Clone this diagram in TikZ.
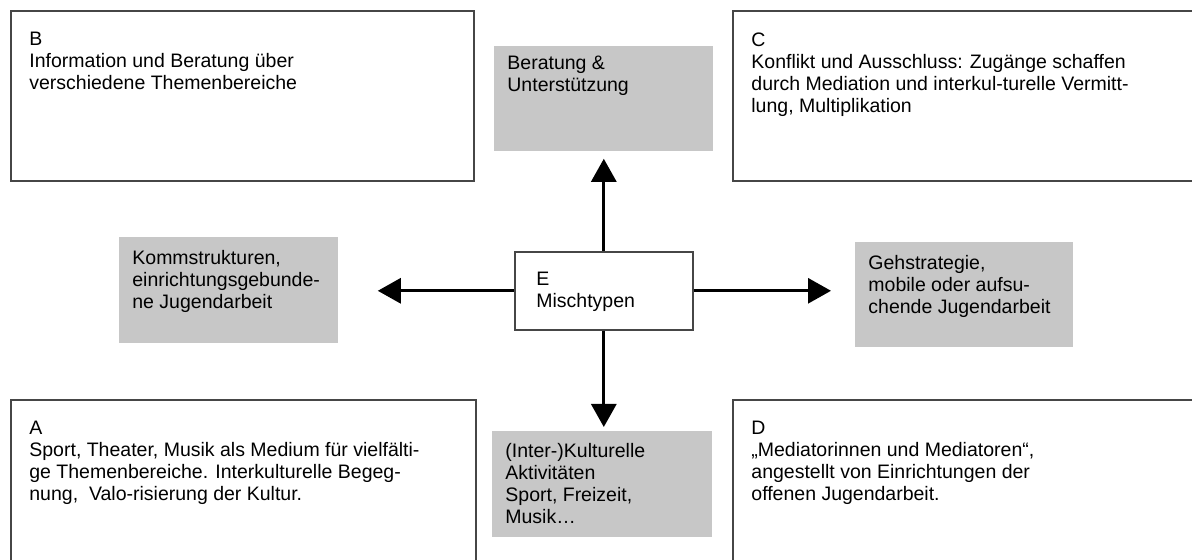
\documentclass[tikz,border=0pt]{standalone}
\usepackage{fontspec}
\setmainfont{Liberation Sans}
\usetikzlibrary{arrows.meta}
\definecolor{feldgrau}{RGB}{199,199,199}
\definecolor{rahmen}{RGB}{70,70,70}
\tikzset{
	feld/.style={draw=rahmen, line width=0.8pt, anchor=north west, inner sep=0pt},
	grau/.style={fill=feldgrau, anchor=north west, inner sep=0pt},
	schrift/.style={anchor=north west, align=left, inner sep=0pt, font=\fontsize{9.75pt}{11pt}\selectfont},
	pfeil/.style={-{Triangle[length=11.5pt,width=12.5pt]}, line width=1.5pt}
}
\begin{document}
\begin{tikzpicture}
	[
		x=0.5pt,
		y=-0.5pt
	]
		\useasboundingbox (0,0) rectangle (1192,560);
		\clip (0,0) rectangle (1192,560);
		\node[anchor=base west, inner sep=0pt, font=\fontsize{9.75pt}{11pt}\selectfont] (titel) at (544,-4) {g};
		\node[feld, minimum width=231.5pt, minimum height=85pt] (B) at (10,10) {};
		\node[feld, minimum width=234pt, minimum height=85pt] (C) at (732,10) {};
		\node[feld, minimum width=232.5pt, minimum height=90.5pt] (A) at (10,399) {};
		\node[feld, minimum width=234pt, minimum height=90.5pt] (D) at (732,399) {};
		\node[schrift] (Btext) at ([shift={(19,22)}]B.north west) {B\\Information und Beratung über\\verschiedene Themenbereiche};
		\node[schrift] (Ctext) at ([shift={(19,22)}]C.north west) {C\\Konflikt und Ausschluss: Zugänge schaffen\\durch Mediation und interkul-turelle Vermitt-\\lung, Multiplikation};
		\node[schrift] (Atext) at ([shift={(19,22)}]A.north west) {A\\Sport, Theater, Musik als Medium für vielfälti-\\ge Themenbereiche. Interkulturelle Begeg-\\nung,\ \ Valo-risierung der Kultur.};
		\node[schrift] (Dtext) at ([shift={(19,22)}]D.north west) {D\\„Mediatorinnen und Mediatoren“,\\angestellt von Einrichtungen der\\offenen Jugendarbeit.};
		\node[grau, minimum width=109.5pt, minimum height=52.5pt] (beratung) at (494,46) {};
		\node[grau, minimum width=109.5pt, minimum height=53pt] (komm) at (119,237) {};
		\node[grau, minimum width=109pt, minimum height=52.5pt] (geh) at (855,242) {};
		\node[grau, minimum width=110pt, minimum height=53pt] (kultur) at (492,431) {};
		\node[schrift] (beratungtext) at ([shift={(13,10)}]beratung.north west) {Beratung \&\\Unterstützung};
		\node[schrift] (kommtext) at ([shift={(13,13)}]komm.north west) {Kommstrukturen,\\einrichtungsgebunde-\\ne Jugendarbeit};
		\node[schrift] (gehtext) at ([shift={(13,13)}]geh.north west) {Gehstrategie,\\mobile oder aufsu-\\chende Jugendarbeit};
		\node[schrift] (kulturtext) at ([shift={(13,12)}]kultur.north west) {(Inter-)Kulturelle\\Aktivitäten\\Sport, Freizeit,\\Musik…};
		\node[feld, fill=white, minimum width=89pt, minimum height=39pt] (E) at (514,251) {};
		\node[schrift] (Etext) at ([shift={(22,21)}]E.north west) {E\\Mischtypen};
		\draw[pfeil, shorten >=3.5pt] (E.north) -- (E.north |- beratung.south);
		\draw[pfeil, shorten >=19.5pt] (E.west) -- (E.west -| komm.east);
		\draw[pfeil, shorten >=12pt] (E.east) -- (E.east -| geh.west);
		\draw[pfeil, shorten >=2pt] (E.south) -- (E.south |- kultur.north);
	\end{tikzpicture}
\end{document}
